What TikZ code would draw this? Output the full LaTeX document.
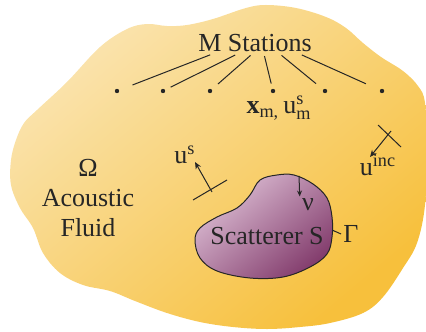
\documentclass[tikz,border=0pt]{standalone}
\usepackage{amsmath}
\usepackage{fontspec}
\setmainfont{Liberation Serif}
\usepackage{xcolor}
\definecolor{fluidLight}{RGB}{250, 228, 176}
\definecolor{fluidDark}{RGB}{247, 192, 60}
\definecolor{scatLight}{RGB}{222, 192, 214}
\definecolor{scatDark}{RGB}{132, 62, 110}
\usepackage{tikz}
\usetikzlibrary{arrows.meta}

\begin{document}
\begin{tikzpicture}[x=0.5pt, y=-0.5pt,
    label/.style={
        inner sep=1pt, font=\fontsize{13}{15}\selectfont, text=black!85
    },
    station/.style={
        circle, fill=black!85, inner sep=0pt, minimum size=2.2pt
    },
    link/.style={line width=0.5pt, black!85},
    wave/.style={-{Stealth[length=3.5pt, width=3pt]}, line width=0.5pt, black!85},
    tick/.style={line width=0.5pt, black!85}
]
\useasboundingbox (0,0) rectangle (426,331);

% acoustic fluid
\shade[top color=fluidLight, bottom color=fluidDark, shading angle=40]
  plot[smooth cycle, tension=0.6] coordinates {
    (37,110) (24,123) (16,140) (11,160) (11,185) (20,208) (33,228) (43,253)
    (60,273) (83,285) (110,291) (135,301) (167,313) (200,322) (233,327)
    (267,329) (300,327) (330,323) (363,313) (383,297) (403,268) (417,243)
    (425,205) (427,150) (425,103) (418,86) (403,71) (381,57) (363,43)
    (346,28) (326,17) (296,8) (266,5) (246,8) (213,19) (187,25) (167,26)
    (147,24) (127,29) (100,47) (67,82)};

% scatterer
\shade[top color=scatLight, bottom color=scatDark, shading angle=40]
  plot[smooth cycle, tension=0.6] coordinates {
    (260,180) (277,175) (294,175) (313,184) (327,198) (332,217) (332,237)
    (327,254) (310,267) (283,277) (250,278) (217,271) (200,258) (195,240)
    (200,228) (217,217) (237,208) (250,195)};
\draw[line width=0.5pt, black!85]
  plot[smooth cycle, tension=0.6] coordinates {
    (260,180) (277,175) (294,175) (313,184) (327,198) (332,217) (332,237)
    (327,254) (310,267) (283,277) (250,278) (217,271) (200,258) (195,240)
    (200,228) (217,217) (237,208) (250,195)};

\node[label] (ms) at (255,43) {M Stations};
\node[label, align=center] (fluid) at (88,198) {Ω\\Acoustic\\Fluid};
\node[label] (scat) at (267,236) {Scatterer S};
\node[label] (gamma) at (351,234) {Γ};
\node[label] (nu) at (308,205) {ν};

\node[station] (s1) at (117,91) {};
\node[station] (s2) at (163,91) {};
\node[station] (s3) at (210,91) {};
\node[station] (s4) at (273,91) {};
\node[station] (s5) at (325,91) {};
\node[station] (s6) at (382,91) {};

\node[label] (xm) at (279,108)
  {$\textbf{x}_{\text{m,}}\,\text{u}^{\text{s}}_{\text{m}}$};

\foreach \s/\dx/\gap in {s1/-21.5/7, s2/-9/3, s3/-1.5/4, s4/4.5/2.5, s5/12.5/4.5, s6/22.5/7.5}
  \draw[link, shorten <=1pt, shorten >=\gap pt] ([xshift=\dx pt]ms.south) -- (\s);

% scattered wave
\coordinate (usTail) at (212,192);
\coordinate (usHead) at (195,162);
\coordinate (usA) at (193,200);
\coordinate (usB) at (227,180);
\draw[tick] (usA) -- (usB);
\draw[wave] (usTail) -- (usHead);
\node[label] (us) at (185,155) {u$^{\text{s}}$};

% incident wave
\coordinate (uiTail) at (391,131);
\coordinate (uiHead) at (370,157);
\coordinate (uiA) at (378,125);
\coordinate (uiB) at (401,147);
\draw[tick] (uiA) -- (uiB);
\draw[wave] (uiTail) -- (uiHead);
\node[label] (uinc) at (378,165) {u$^{\text{inc}}$};

% normal and boundary
\coordinate (nuTail) at (299,176);
\coordinate (gammaFoot) at (332,230);
\draw[wave, -{Stealth[length=3pt, width=2.5pt]}] (nuTail) -- (nu.north west);
\draw[tick] (gammaFoot) -- (gamma.west);

\end{tikzpicture}
\end{document}
